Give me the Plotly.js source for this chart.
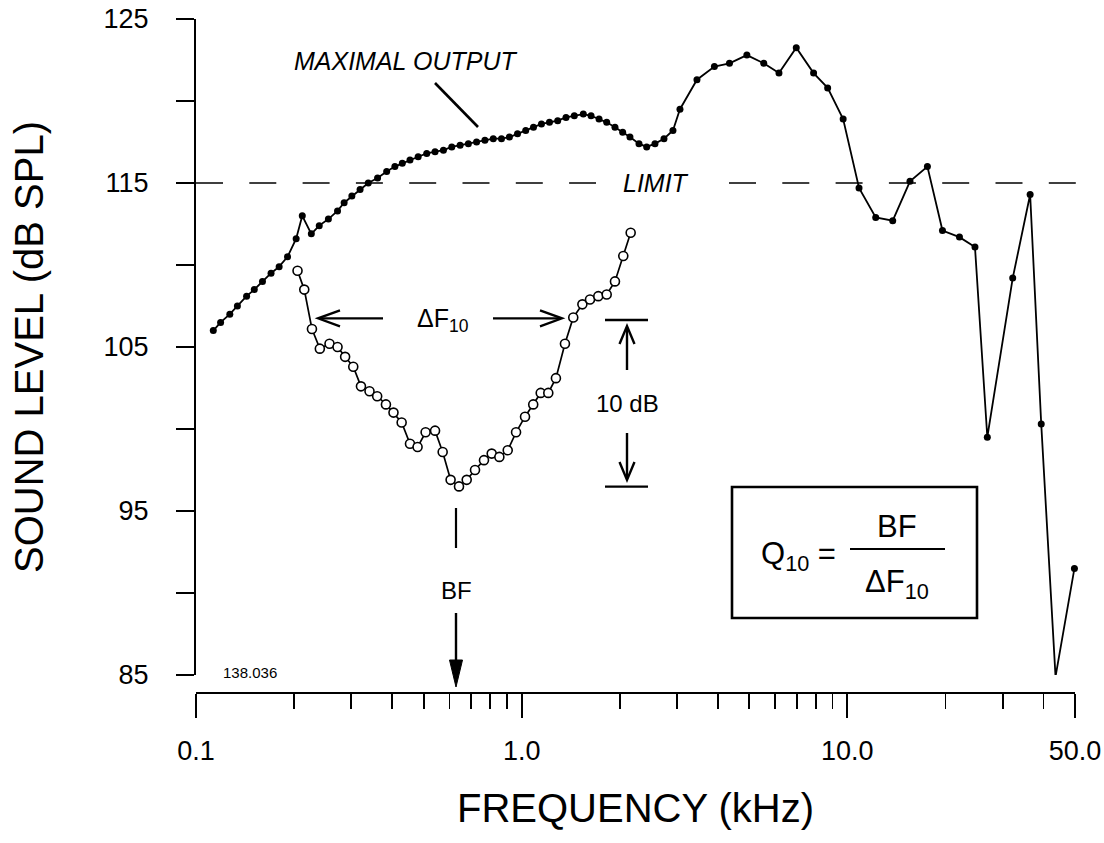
<!DOCTYPE html>
<html><head><meta charset="utf-8">
<script src="https://cdn.plot.ly/plotly-3.0.1.min.js"></script>
<style>html,body{margin:0;padding:0;background:#fff}</style>
</head><body>
<div id="chart" style="width:1104px;height:843px"></div>
<script>
// ---- data ----
const maxFreq = [0.113,0.119,0.127,0.134,0.143,0.151,0.160,0.170,0.180,0.191,
  0.203,0.212,0.226,0.239,0.255,0.272,0.285,0.301,0.319,0.338,
  0.361,0.385,0.408,0.430,0.454,0.481,0.511,0.542,0.575,0.610,
  0.647,0.686,0.727,0.771,0.818,0.867,0.917,0.971,1.029,1.087,
  1.150,1.217,1.290,1.368,1.451,1.546,1.633,1.728,1.824,1.934,
  2.042,2.150,2.292,2.420,2.566,2.735,2.914,3.062,3.453,3.906,
  4.345,4.914,5.537,6.166,6.968,7.876,8.700,9.707,10.86,12.22,
  13.78,15.57,17.61,19.59,22.09,24.65,26.90,32.19,36.41,39.38,43.57,49.80];
const maxLevel = [106.0,106.5,107.0,107.5,108.1,108.5,109.0,109.5,109.9,110.5,
  111.6,113.0,111.9,112.4,112.8,113.3,113.8,114.2,114.6,115.0,
  115.3,115.7,116.0,116.2,116.4,116.6,116.8,116.9,117.0,117.2,
  117.3,117.4,117.5,117.6,117.7,117.7,117.8,118.0,118.2,118.4,
  118.6,118.7,118.8,119.0,119.1,119.2,119.1,118.9,118.7,118.4,
  118.1,117.8,117.4,117.2,117.4,117.7,118.2,119.5,121.3,122.1,
  122.3,122.8,122.3,121.7,123.25,121.7,120.8,118.9,114.7,112.9,
  112.7,115.1,116.0,112.1,111.7,111.1,99.5,109.2,114.3,100.3,84.9,91.5];
const tuneFreq = [0.205,0.215,0.227,0.240,0.257,0.272,0.287,0.304,0.321,0.341,
  0.360,0.383,0.404,0.428,0.454,0.479,0.507,0.542,0.572,0.605,
  0.642,0.678,0.719,0.766,0.809,0.854,0.906,0.961,1.024,1.085,
  1.144,1.207,1.274,1.358,1.440,1.536,1.621,1.719,1.824,1.934,2.051,2.161];
const tuneLevel = [109.65,108.5,106.1,104.9,105.2,105.0,104.4,103.8,102.6,102.3,
  102.0,101.5,101.0,100.4,99.1,98.9,99.8,99.9,98.6,96.9,
  96.5,96.9,97.5,98.1,98.5,98.3,98.7,99.8,100.75,101.5,
  102.2,102.2,103.1,105.2,106.8,107.6,107.9,108.1,108.2,109.0,110.55,111.97];
const xTickVals = [0.1, 1, 10, 50];
const xTickText = ['0.1', '1.0', '10.0', '50.0'];
const xMinorVals = [0.2,0.3,0.4,0.5,0.6,0.7,0.8,0.9,2,3,4,5,6,7,8,9,20,30,40];
const yTickVals = [85,95,105,115,125];
const yTickText = ['85','95','105','115','125'];
const yMinorVals = [90,100,110,120];
const limitLevel = 115;

// ---- geometry helpers (pixel -> paper) for decorations ----
const W = 1104, H = 843, ML = 196, MR = 29, MT = 19, MB = 150;
const PW = W - ML - MR, PH = H - MT - MB;
const px = x => (x - ML) / PW;
const py = y => (H - MB - y) / PH;
const FONT = 'Liberation Sans, Arial, Helvetica, sans-serif';

function seg(x0, y0, x1, y1, w, dash) {
  return {type:'line', xref:'paper', yref:'paper', x0:px(x0), y0:py(y0), x1:px(x1), y1:py(y1),
    line:{color:'#000', width:w||2, dash:dash||'solid'}};
}
function chevron(tx, ty, dx, dy, back, half, w) {
  const ax = tx - dx*back, ay = ty - dy*back;
  const p1 = [ax - dy*half, ay + dx*half], p2 = [ax + dy*half, ay - dx*half];
  return {type:'path', xref:'paper', yref:'paper',
    path:`M${px(p1[0])},${py(p1[1])} L${px(tx)},${py(ty)} L${px(p2[0])},${py(p2[1])}`,
    line:{color:'#000', width:w||2.2}};
}
function tri(tx, ty, baseY, half) {
  return {type:'path', xref:'paper', yref:'paper',
    path:`M${px(tx-half)},${py(baseY)} L${px(tx)},${py(ty)} L${px(tx+half)},${py(baseY)} Z`,
    fillcolor:'#000', line:{color:'#000', width:1}};
}
function txt(t, x, y, size, extra) {
  return Object.assign({text:t, xref:'paper', yref:'paper', x:px(x), y:py(y), showarrow:false,
    xanchor:'center', yanchor:'middle', font:{family:FONT, size:size, color:'#000'}}, extra||{});
}

const traces = [
  {x:maxFreq, y:maxLevel, type:'scatter', mode:'lines+markers', cliponaxis:false,
   line:{color:'#000', width:1.8}, marker:{color:'#000', size:7}},
  {x:tuneFreq, y:tuneLevel, type:'scatter', mode:'lines+markers', cliponaxis:false,
   line:{color:'#000', width:1.7},
   marker:{color:'#fff', size:9, line:{color:'#000', width:1.6}}}
];

const shapes = [
  // limit line (interrupted by its label)
  {type:'line', xref:'paper', yref:'y', x0:0, x1:px(596), y0:limitLevel, y1:limitLevel,
   line:{color:'#000', width:1.5, dash:'27px,26.3px'}},
  {type:'line', xref:'paper', yref:'y', x0:px(729), x1:px(1078), y0:limitLevel, y1:limitLevel,
   line:{color:'#000', width:1.5, dash:'27px,26.3px'}},
  // maximal output leader
  seg(435, 83, 478, 127, 2.6),
  // delta F10 arrows
  seg(383, 318.3, 320, 318.3, 2.3), chevron(318, 318.3, -1, 0, 22, 8, 2.3),
  seg(493, 318.3, 560, 318.3, 2.3), chevron(562, 318.3, 1, 0, 22, 8, 2.3),
  // 10 dB bars and arrows
  seg(605, 320, 648, 320, 2.3), seg(605, 486.7, 648, 486.7, 2.3),
  seg(627, 370, 627, 328, 2.4), chevron(627, 326, 0, -1, 18, 7.5, 2.4),
  seg(627, 433, 627, 478, 2.4), chevron(627, 480, 0, 1, 18, 7.5, 2.4),
  // BF marker
  seg(456, 508, 456, 548, 2.2),
  seg(456, 613, 456, 665, 2.4), tri(456, 687, 660, 6.5),
  // Q10 box
  {type:'rect', xref:'paper', yref:'paper', x0:px(732), x1:px(977), y0:py(618), y1:py(487),
   line:{color:'#000', width:2.6}, fillcolor:'rgba(0,0,0,0)'},
  seg(850, 549, 945, 549, 2.2)
];

const annotations = [
  txt('<i>MAXIMAL OUTPUT</i>', 406, 61, 25),
  txt('<i>LIMIT</i>', 656, 183, 25),
  txt('ΔF<sub>10</sub>', 443, 320, 25),
  txt('10 dB', 627, 403, 24),
  txt('BF', 456, 590, 24),
  txt('138.036', 250, 672, 15),
  txt('Q<sub>10</sub> =', 838, 556, 31, {xanchor:'right'}),
  txt('BF', 897, 526, 31),
  txt('ΔF<sub>10</sub>', 897, 584, 31)
];

const layout = {
  width:W, height:H, margin:{l:ML, r:MR, t:MT, b:MB, pad:0},
  paper_bgcolor:'#fff', plot_bgcolor:'#fff', showlegend:false,
  font:{family:FONT, color:'#000'},
  xaxis:{type:'log', range:[-1, Math.log10(50)], anchor:'free', position:0,
    showline:true, linecolor:'#000', linewidth:2, showgrid:false, zeroline:false,
    ticks:'outside', ticklen:24, tickwidth:1.8, tickcolor:'#000',
    tickmode:'array', tickvals:xTickVals, ticktext:xTickText,
    tickfont:{family:FONT, size:27, color:'#000'}, ticklabelstandoff:10,
    minor:{tickmode:'array', tickvals:xMinorVals, ticks:'outside', ticklen:15, tickwidth:1.8, tickcolor:'#000', showgrid:false},
    title:{text:'FREQUENCY (kHz)', font:{family:FONT, size:40, color:'#000'}, standoff:28}},
  yaxis:{range:[85,125], domain:[18/PH, 1], showline:true, linecolor:'#000', linewidth:2,
    showgrid:false, zeroline:false, ticks:'outside', ticklen:18, tickwidth:1.8, tickcolor:'#000',
    tickmode:'array', tickvals:yTickVals, ticktext:yTickText,
    tickfont:{family:FONT, size:27, color:'#000'}, ticklabelstandoff:22,
    minor:{tickmode:'array', tickvals:yMinorVals, ticks:'outside', ticklen:18, tickwidth:1.8, tickcolor:'#000', showgrid:false},
    title:{text:'SOUND LEVEL (dB SPL)', font:{family:FONT, size:40, color:'#000'}, standoff:48}},
  shapes:shapes, annotations:annotations
};

Plotly.newPlot('chart', traces, layout, {displayModeBar:false, staticPlot:true});
</script>
</body></html>
